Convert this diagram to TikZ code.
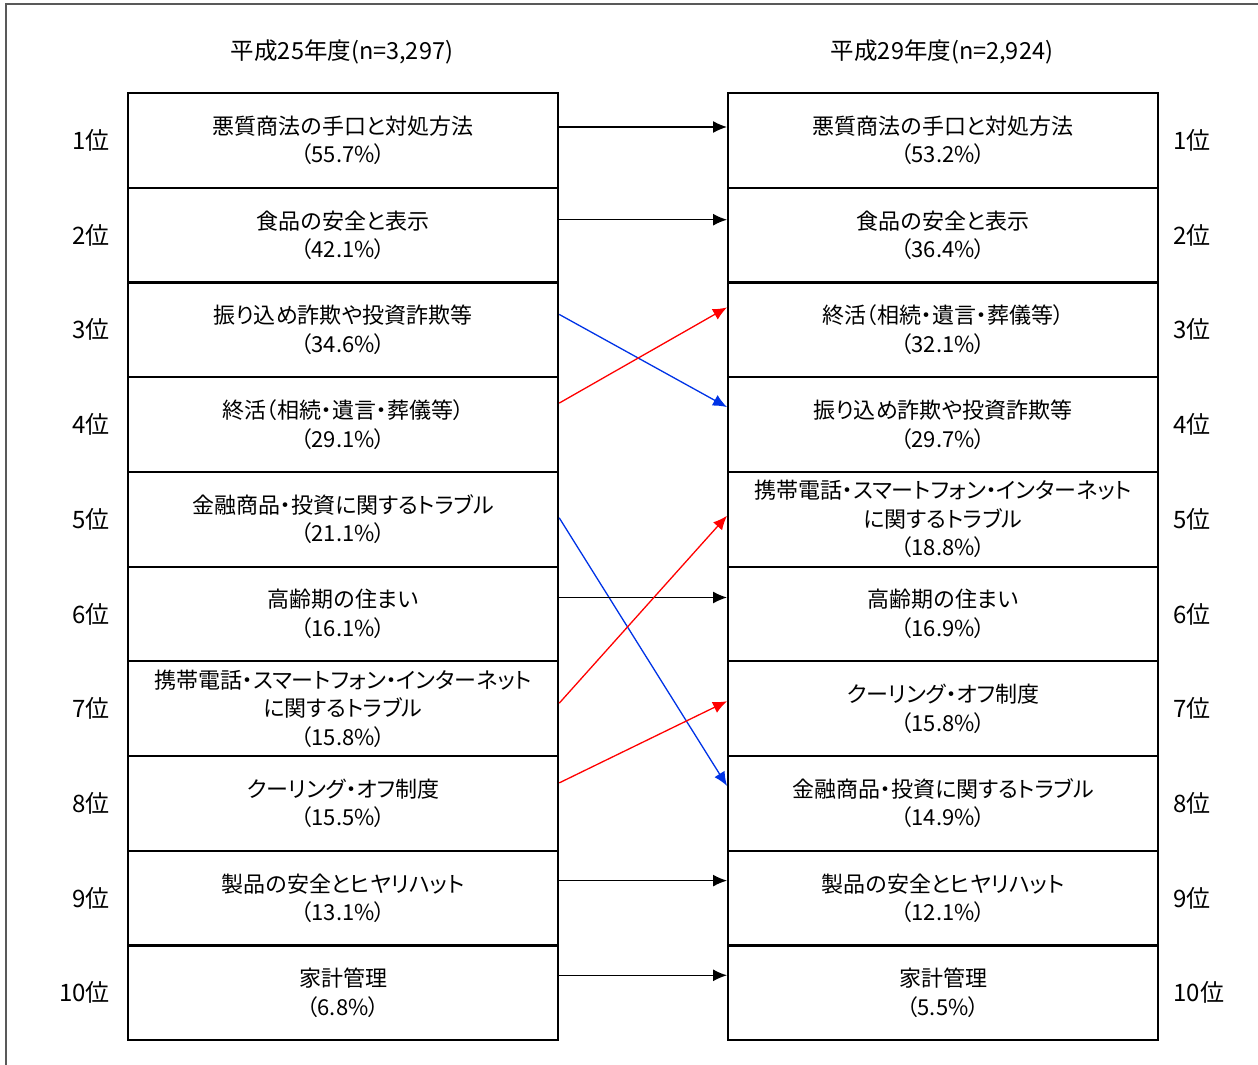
\documentclass[tikz,border=0pt]{standalone}
\usepackage{fontspec}
\setmainfont[RawFeature=+palt]{Noto Sans CJK JP}
\usetikzlibrary{arrows.meta}
\definecolor{frameg}{RGB}{89,89,89}
\definecolor{arrred}{RGB}{255,0,0}
\definecolor{arrblue}{RGB}{0,51,230}
\begin{document}
\begin{tikzpicture}[x=1pt,y=-1pt,
  itembox/.style={draw=black,line width=2.2pt,minimum width=430pt,minimum height=94.7pt,inner sep=0pt,align=center,font=\fontsize{22}{28.5}\selectfont,anchor=north west},
  ranktxt/.style={font=\fontsize{24}{26}\selectfont,inner sep=0pt},
  ttl/.style={font=\fontsize{23.5}{25}\selectfont,inner sep=0pt},
  conn/.style={line width=1.3pt,-{Latex[length=14pt,width=12pt]}},
  same/.style={conn,draw=black},
  up/.style={conn,draw=arrred},
  down/.style={conn,draw=arrblue}]
\useasboundingbox (0,0) rectangle (1258,1065);
% outer frame
\draw[frameg,line width=2pt] (6,1070) -- (6,4) -- (1265,4);
% titles
\node[ttl] (T1) at (342,52) {平成25年度(n=3,297)};
\node[ttl] (T2) at (942,52) {平成29年度(n=2,924)};
% left column
\node[itembox] (L1) at (127,92) {悪質商法の手口と対処方法\\（55.7\%）};
\node[itembox] (L2) at (127,186.7) {食品の安全と表示\\（42.1\%）};
\node[itembox] (L3) at (127,281.4) {振り込め詐欺や投資詐欺等\\（34.6\%）};
\node[itembox] (L4) at (127,376.1) {終活（相続・遺言・葬儀等）\\（29.1\%）};
\node[itembox] (L5) at (127,470.8) {金融商品・投資に関するトラブル\\（21.1\%）};
\node[itembox] (L6) at (127,565.5) {高齢期の住まい\\（16.1\%）};
\node[itembox] (L7) at (127,660.2) {携帯電話・スマートフォン・インターネット\\に関するトラブル\\（15.8\%）};
\node[itembox] (L8) at (127,754.9) {クーリング・オフ制度\\（15.5\%）};
\node[itembox] (L9) at (127,849.6) {製品の安全とヒヤリハット\\（13.1\%）};
\node[itembox] (L10) at (127,944.3) {家計管理\\（6.8\%）};
% right column
\node[itembox] (R1) at (727,92) {悪質商法の手口と対処方法\\（53.2\%）};
\node[itembox] (R2) at (727,186.7) {食品の安全と表示\\（36.4\%）};
\node[itembox] (R3) at (727,281.4) {終活（相続・遺言・葬儀等）\\（32.1\%）};
\node[itembox] (R4) at (727,376.1) {振り込め詐欺や投資詐欺等\\（29.7\%）};
\node[itembox] (R5) at (727,470.8) {携帯電話・スマートフォン・インターネット\\に関するトラブル\\（18.8\%）};
\node[itembox] (R6) at (727,565.5) {高齢期の住まい\\（16.9\%）};
\node[itembox] (R7) at (727,660.2) {クーリング・オフ制度\\（15.8\%）};
\node[itembox] (R8) at (727,754.9) {金融商品・投資に関するトラブル\\（14.9\%）};
\node[itembox] (R9) at (727,849.6) {製品の安全とヒヤリハット\\（12.1\%）};
\node[itembox] (R10) at (727,944.3) {家計管理\\（5.5\%）};
% rank labels
\foreach \i in {1,...,10}{
  \node[ranktxt,anchor=east] (LR\i) at ([xshift=-17pt]L\i.west) {\i 位};
  \node[ranktxt,anchor=west] (RR\i) at ([xshift=14pt]R\i.east) {\i 位};
}
% connectors
\draw[same] ([yshift=-35pt]L1.north east) -- ([yshift=-35pt]R1.north west);
\draw[same] ([yshift=-33pt]L2.north east) -- ([yshift=-33pt]R2.north west);
\draw[down] ([yshift=-33pt]L3.north east) -- ([yshift=-31pt]R4.north west);
\draw[up] ([yshift=-27pt]L4.north east) -- ([yshift=-26pt]R3.north west);
\draw[down] ([yshift=-47pt]L5.north east) -- ([yshift=-31pt]R8.north west);
\draw[same] ([yshift=-32pt]L6.north east) -- ([yshift=-32pt]R6.north west);
\draw[up] ([yshift=-43pt]L7.north east) -- ([yshift=-45pt]R5.north west);
\draw[up] ([yshift=-28pt]L8.north east) -- ([yshift=-41pt]R7.north west);
\draw[same] ([yshift=-31pt]L9.north east) -- ([yshift=-31pt]R9.north west);
\draw[same] ([yshift=-31pt]L10.north east) -- ([yshift=-31pt]R10.north west);
\end{tikzpicture}
\end{document}
